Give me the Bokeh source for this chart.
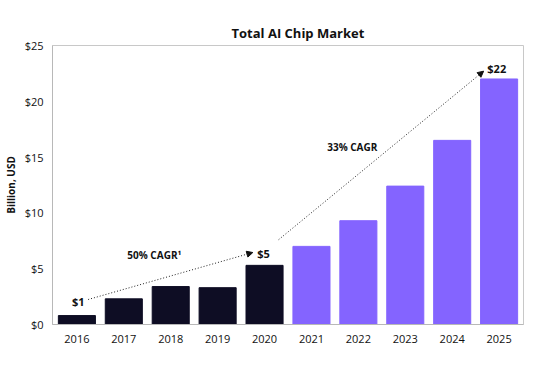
from bokeh.plotting import figure
from bokeh.models import (ColumnDataSource, FixedTicker, NumeralTickFormatter, Arrow,
                          NormalHead, Label, Range1d)
from bokeh.embed import file_html
from bokeh.resources import INLINE

years = ["2016", "2017", "2018", "2019", "2020", "2021", "2022", "2023", "2024", "2025"]
values = [0.8, 2.3, 3.4, 3.3, 5.3, 7.0, 9.3, 12.4, 16.5, 22.0]
is_forecast = [False, False, False, False, False, True, True, True, True, True]
y_ticks = [0, 5, 10, 15, 20, 25]

DARK = "#0e0d24"
PURPLE = "#8464ff"
FONT = "Open Sans"

idx = list(range(len(years)))
colors = [PURPLE if f else DARK for f in is_forecast]
src = ColumnDataSource(dict(x=idx, top=values, color=colors))

p = figure(frame_width=471, frame_height=279, output_backend="svg", toolbar_location=None,
           x_range=Range1d(-0.52, len(years) - 0.48), y_range=Range1d(0, 25),
           min_border_left=52, min_border_right=10, min_border_top=45,
           min_border_bottom=36)
p.title.text = "Total AI Chip Market"
p.title.align = "left"
p.title.text_font = FONT
p.title.text_font_style = "bold"
p.title.text_font_size = "13px"
p.title.text_color = "#111111"
p.title.offset = 179
p.title.standoff = 8

p.vbar(x="x", top="top", width=0.79, color="color", source=src)

p.xgrid.visible = False
p.ygrid.visible = False
p.outline_line_color = "#c8c8c8"
p.outline_line_width = 1
p.background_fill_color = "white"
p.border_fill_color = "white"

p.xaxis.ticker = FixedTicker(ticks=idx)
p.xaxis.major_label_overrides = {i: y for i, y in enumerate(years)}
p.yaxis.ticker = FixedTicker(ticks=y_ticks)
p.yaxis.formatter = NumeralTickFormatter(format="$0")
for ax in (p.xaxis[0], p.yaxis[0]):
    ax.axis_line_color = "#b8b8b8"
    ax.major_tick_line_color = None
    ax.minor_tick_line_color = None
    ax.major_tick_out = 0
    ax.major_tick_in = 0
    ax.major_label_text_font = FONT
    ax.major_label_text_font_size = "11px"
    ax.major_label_text_color = "#111111"
p.xaxis.major_label_standoff = 10
p.yaxis.major_label_standoff = 9
p.yaxis.axis_label = "Billion, USD"
p.yaxis.axis_label_text_font = FONT
p.yaxis.axis_label_text_font_style = "bold"
p.yaxis.axis_label_text_font_size = "10px"
p.yaxis.axis_label_text_color = "#111111"
p.yaxis.axis_label_standoff = 4

def add_arrow(x0, y0, x1, y1):
    p.add_layout(Arrow(end=NormalHead(size=6, fill_color="#111111", line_color="#111111"),
                       x_start=x0, y_start=y0, x_end=x1, y_end=y1,
                       line_dash="1 2", line_width=1, line_color="#222222"))

add_arrow(0.24, 2.24, 3.75, 6.45)
add_arrow(4.30, 7.6, 8.67, 22.7)

def add_label(x, y, txt, size="11px"):
    p.add_layout(Label(x=x, y=y, text=txt, text_font=FONT, text_font_style="bold",
                       text_font_size=size, text_align="center", text_baseline="middle",
                       text_color="#111111"))

add_label(0.03, 2.06, "$1")
add_label(3.98, 6.4, "$5")
add_label(8.95, 22.9, "$22")
add_label(1.65, 6.2, "50% CAGR¹", "10px")
add_label(5.87, 15.9, "33% CAGR", "10px")

open("out.html", "w").write(file_html(p, INLINE))
